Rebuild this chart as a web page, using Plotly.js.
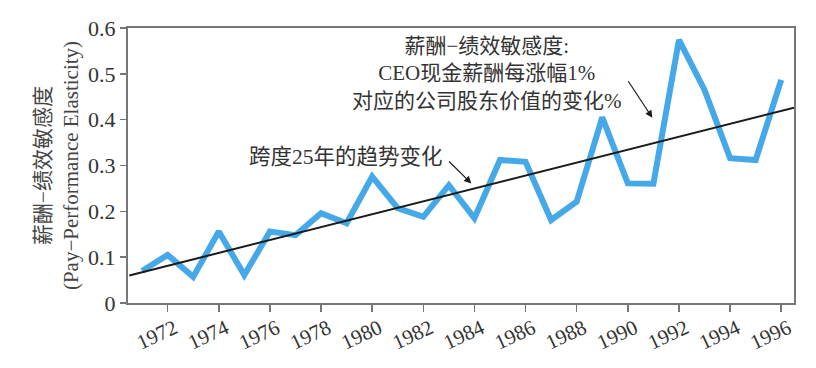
<!DOCTYPE html>
<html>
<head>
<meta charset="utf-8">
<script src="https://cdn.plot.ly/plotly-3.0.1.min.js"></script>
<style>
  html, body { margin: 0; padding: 0; background: #fff; }
  #chart { width: 816px; height: 368px; }
</style>
</head>
<body>
<div id="chart"></div>
<script>
// ---- data ----
const years = [1971, 1972, 1973, 1974, 1975, 1976, 1977, 1978, 1979, 1980, 1981, 1982, 1983,
               1984, 1985, 1986, 1987, 1988, 1989, 1990, 1991, 1992, 1993, 1994, 1995, 1996];
const elasticity = [0.070, 0.105, 0.057, 0.156, 0.061, 0.156, 0.148, 0.196, 0.174, 0.276, 0.207, 0.188, 0.257,
                    0.185, 0.312, 0.308, 0.181, 0.221, 0.405, 0.261, 0.260, 0.574, 0.465, 0.316, 0.312, 0.487];
const trendYears = [1970.5, 1996.5];
const trendValues = [0.060, 0.426];

const xTickVals = [1972, 1974, 1976, 1978, 1980, 1982, 1984, 1986, 1988, 1990, 1992, 1994, 1996];
const xTickText = ['1972', '1974', '1976', '1978', '1980', '1982', '1984', '1986', '1988', '1990', '1992', '1994', '1996'];
const yTickVals = [0, 0.1, 0.2, 0.3, 0.4, 0.5, 0.6];
const yTickText = ['0', '0.1', '0.2', '0.3', '0.4', '0.5', '0.6'];

const yTitleText = '薪酬−绩效敏感度<br>(Pay−Performance Elasticity)';
const trendLabel = '跨度25年的趋势变化';
const seriesLabel = '薪酬−绩效敏感度:<br>CEO现金薪酬每涨幅1%<br>对应的公司股东价值的变化%';

// annotation anchor points (data units)
const trendArrowHead = [1983.88, 0.261];
const trendArrowTail = [1982.95, 0.312];
const trendLabelPos = [1982.85, 0.319];
const seriesArrowHead = [1990.96, 0.404];
const seriesArrowTail = [1989.98, 0.487];
const seriesLabelPos = [1984.48, 0.500];

const FONT = '"Liberation Serif", "Times New Roman", "Noto Sans CJK SC", serif';

const traces = [
  {
    x: years, y: elasticity, type: 'scatter', mode: 'lines',
    line: { color: '#45a8e8', width: 6 }, hoverinfo: 'x+y'
  },
  {
    x: trendYears, y: trendValues, type: 'scatter', mode: 'lines',
    line: { color: '#1a1a1a', width: 2 }, hoverinfo: 'skip'
  }
];

const layout = {
  width: 816, height: 368,
  margin: { l: 128, r: 22, t: 28, b: 65 },
  paper_bgcolor: '#ffffff', plot_bgcolor: '#ffffff',
  showlegend: false,
  font: { family: FONT, color: '#333333', size: 18 },
  xaxis: {
    range: [1970.45, 1996.5],
    tickvals: xTickVals, ticktext: xTickText,
    tickangle: -25,
    ticklabelstandoff: -4,
    ticklabelshift: 7,
    ticks: 'outside', ticklen: 7, tickwidth: 1.5, tickcolor: '#777777',
    showline: true, linecolor: '#777777', linewidth: 2, mirror: true,
    showgrid: false, zeroline: false,
    tickfont: { family: FONT, size: 21, color: '#333333' }
  },
  yaxis: {
    range: [0, 0.6],
    tickvals: yTickVals, ticktext: yTickText,
    ticks: 'outside', ticklen: 6, tickwidth: 1.5, tickcolor: '#777777',
    showline: true, linecolor: '#777777', linewidth: 2, mirror: true,
    showgrid: false, zeroline: false,
    tickfont: { family: FONT, size: 22, color: '#333333' },
    title: { text: yTitleText, font: { family: FONT, size: 21, color: '#444444' }, standoff: 4 }
  },
  annotations: [
    {
      x: trendLabelPos[0], y: trendLabelPos[1], xref: 'x', yref: 'y',
      text: trendLabel, showarrow: false, xanchor: 'right', yanchor: 'middle',
      font: { family: FONT, size: 21.5, color: '#333333' }
    },
    {
      x: trendArrowHead[0], y: trendArrowHead[1], xref: 'x', yref: 'y',
      ax: trendArrowTail[0], ay: trendArrowTail[1], axref: 'x', ayref: 'y',
      text: '', showarrow: true, arrowhead: 2, arrowsize: 1.2, arrowwidth: 1.2, arrowcolor: '#1a1a1a'
    },
    {
      x: seriesLabelPos[0], y: seriesLabelPos[1], xref: 'x', yref: 'y',
      text: seriesLabel, showarrow: false, xanchor: 'center', yanchor: 'middle', align: 'center',
      font: { family: FONT, size: 21, color: '#333333' }
    },
    {
      x: seriesArrowHead[0], y: seriesArrowHead[1], xref: 'x', yref: 'y',
      ax: seriesArrowTail[0], ay: seriesArrowTail[1], axref: 'x', ayref: 'y',
      text: '', showarrow: true, arrowhead: 2, arrowsize: 1.2, arrowwidth: 1.2, arrowcolor: '#1a1a1a'
    }
  ]
};

Plotly.newPlot('chart', traces, layout, { staticPlot: true, displayModeBar: false });
</script>
</body>
</html>
